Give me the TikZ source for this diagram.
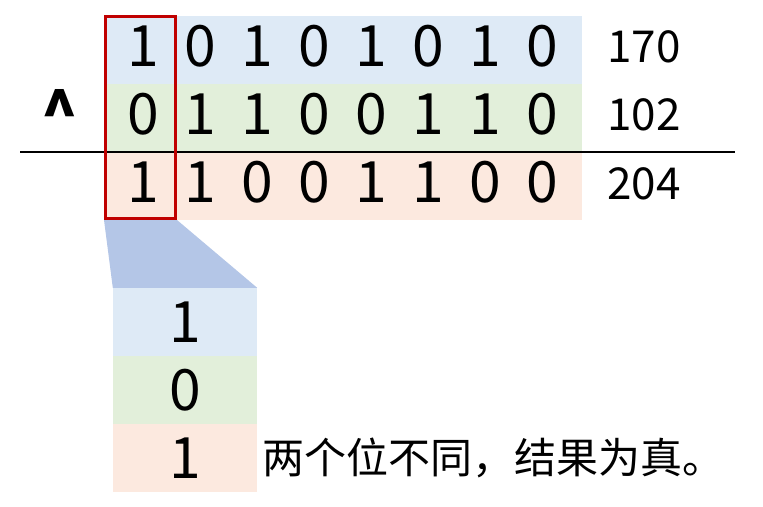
\documentclass[tikz,border=0pt]{standalone}
\usepackage{fontspec}
\setmainfont{Noto Sans CJK SC}
\usetikzlibrary{positioning}
\definecolor{rowblue}{HTML}{DEEAF6}
\definecolor{rowgreen}{HTML}{E2EFDA}
\definecolor{rowpink}{HTML}{FCE9DF}
\definecolor{zoomblue}{HTML}{B4C6E7}
\definecolor{boxred}{HTML}{C00000}
\begin{document}
\begin{tikzpicture}[x=1pt,y=-1pt,
    band/.style={minimum width=478pt,minimum height=68pt,inner sep=0pt},
    bit/.style={inner sep=0pt,font=\fontsize{57}{57}\selectfont},
    dec/.style={inner sep=0pt,font=\fontsize{44}{44}\selectfont},
    cell/.style={minimum width=144pt,minimum height=68pt,inner sep=0pt,font=\fontsize{57}{57}\selectfont}]
            \useasboundingbox (0,0) rectangle (763,506);
            % the three rows
            \node[band,fill=rowblue] (rowa) at (343,50) {};
            \node[band,fill=rowgreen] (rowb) at (343,118) {};
            \node[band,fill=rowpink] (rowc) at (343,186) {};
            \foreach \b [count=\i] in {1,0,1,0,1,0,1,0}
              \node[bit] (a\i) at (86+57*\i,46) {\b};
            \foreach \b [count=\i] in {0,1,1,0,0,1,1,0}
              \node[bit] (b\i) at (86+57*\i,114) {\b};
            \foreach \b [count=\i] in {1,1,0,0,1,1,0,0}
              \node[bit] (c\i) at (86+57*\i,182) {\b};
            \node[dec] (deca) at (644,47) {170};
            \node[dec] (decb) at (644,115) {102};
            \node[dec] (decc) at (644,184) {204};
            \node[font=\bfseries\fontsize{60}{60}\selectfont,inner sep=0pt] (op) at (60,112) {\textasciicircum};
            \coordinate (lineL) at (20,152);
            \coordinate (lineR) at (735,152);
            \draw[line width=2pt] (lineL) -- (lineR);
            % the first bit, taken out
            \node[cell,fill=rowblue] (ka) at (185,322) {1};
            \node[cell,fill=rowgreen] (kb) at (185,390) {0};
            \node[cell,fill=rowpink] (kc) at (185,458) {1};
            \node[draw=boxred,line width=3pt,minimum width=70pt,minimum height=202pt,inner sep=0pt] (pick) at (140.5,117.5) {};
            \fill[zoomblue] (pick.south west) -- (pick.south east) -- (ka.north east) -- (ka.north west) -- cycle;
            \node[right=5pt of kc,inner sep=0pt,font=\fontsize{42}{42}\selectfont] (note) {两个位不同，结果为真。};
        \end{tikzpicture}
\end{document}
